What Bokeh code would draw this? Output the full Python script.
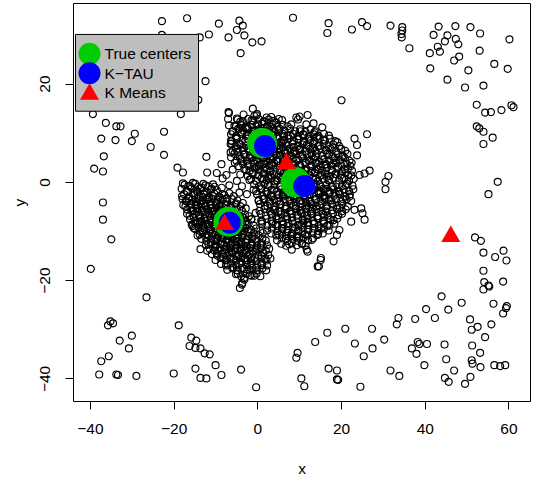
from bokeh.plotting import figure
from bokeh.models import Range1d, FixedTicker, Title
from bokeh.core.properties import value
from bokeh.embed import file_html
from bokeh.resources import INLINE

# ---------------- data ----------------
x_ticks = [-40, -20, 0, 20, 40, 60]
y_ticks = [-40, -20, 0, 20]

outliers = [
    (-22.9, 32.8), (-16.9, 33.4), (-9.3, 32.3), (-11.7, 30.1), (-13.9, 29.5), (-7.0, 29.5), (-22.9, 30.0),
    (-12.5, 20.6), (-14.2, 16.8), (-39.4, 13.9), (-18.4, 13.9), (-7.0, 14.3), (-36.3, 12.1), (-33.8, 11.4),
    (-32.8, 11.4), (-29.4, 9.9), (-22.4, 10.3), (-37.4, 8.9), (-34.0, 8.6),
    (-4.4, 32.9), (-3.6, 31.9), (-5.0, 31.0), (-3.2, 29.9), (-1.3, 28.5), (0.9, 28.7), (-4.1, 26.3),
    (8.4, 33.5), (16.9, 32.4), (16.6, 30.4), (22.5, 31.1), (24.9, 32.6), (26.1, 31.8), (20.0, 16.7),
    (-1.2, 15.0), (-0.2, 13.9), (-0.3, 13.6), (3.2, 13.3), (9.2, 13.2), (9.6, 12.8), (10.0, 13.4),
    (11.9, 13.7), (13.3, 12.0), (11.6, 11.8), (15.4, 11.2), (-3.9, 11.6), (-4.4, 10.9), (23.1, 8.9), (26.1, 9.8),
    (31.7, 31.9), (34.5, 31.6), (34.5, 30.9), (34.3, 30.2), (34.4, 29.5), (36.2, 27.3), (43.2, 31.7),
    (47.2, 31.8), (50.8, 31.6), (53.1, 30.3), (42.0, 30.0), (45.3, 29.9), (47.3, 29.2), (44.7, 28.7),
    (47.9, 28.1), (43.0, 27.6), (43.5, 26.6), (41.1, 26.3), (53.0, 26.8), (60.1, 29.1), (48.1, 25.6),
    (46.9, 24.8), (56.5, 24.1), (59.7, 23.1), (41.2, 23.2), (50.3, 22.8), (45.3, 20.9), (49.5, 19.3),
    (53.9, 19.7), (52.3, 15.8), (54.3, 14.2), (55.7, 14.3), (58.2, 14.7), (60.6, 15.7), (61.1, 15.3),
    (52.3, 11.4), (52.9, 11.0), (53.9, 10.3), (56.1, 9.1),
    (53.9, 7.8), (31.2, 1.3), (30.5, 0.1), (30.5, -1.4), (57.3, 0.1), (55.1, -2.4), (51.9, -11.2),
    (53.3, -11.9), (53.9, -14.3), (58.7, -13.9), (56.7, -15.2), (59.4, -15.9), (53.9, -18.0),
    (54.1, -20.3), (55.1, -21.0), (53.9, -21.8), (55.3, -21.2), (58.6, -20.2), (43.9, -23.2), (48.7, -24.5),
    (56.3, -24.7), (59.5, -25.2), (59.3, -25.6), (58.6, -26.7), (40.2, -25.8), (45.5, -25.9), (33.6, -27.6),
    (33.2, -28.9), (37.6, -27.8), (42.3, -27.6), (50.7, -27.9), (52.5, -29.4), (51.1, -30.0), (55.8, -28.9),
    (54.3, -31.5), (30.2, -32.0), (38.2, -32.5), (38.6, -32.9), (40.4, -32.9), (36.8, -33.8), (37.9, -34.9),
    (44.6, -33.0), (51.2, -33.2), (53.1, -34.7), (45.0, -36.0), (51.1, -36.2), (51.3, -36.9), (53.2, -37.6),
    (56.5, -37.2), (57.9, -37.4), (59.1, -37.2), (39.8, -37.2), (31.7, -38.3), (33.8, -39.4), (46.9, -38.3),
    (44.7, -39.8), (45.6, -40.6), (50.8, -39.6), (49.5, -41.0),
    (-4.0, -38.1), (-0.4, -41.7), (9.5, -34.7), (9.2, -35.7), (10.4, -39.9), (11.1, -41.5), (13.7, -32.5),
    (16.6, -30.6), (20.9, -29.8), (27.3, -29.8), (23.2, -32.8), (27.4, -33.8), (25.3, -35.4), (16.9, -37.9),
    (18.9, -38.3), (18.9, -40.1), (19.2, -40.2), (24.5, -41.6),
    (-26.6, -23.4), (-35.2, -28.3), (-35.8, -29.1), (-34.6, -28.7), (-18.9, -29.1), (-30.1, -31.2),
    (-33.0, -32.2), (-30.8, -33.8), (-35.6, -35.4), (-37.4, -36.4), (-37.9, -39.1), (-33.8, -39.1),
    (-33.4, -39.2), (-29.0, -39.4), (-15.9, -31.6), (-14.7, -32.2), (-16.3, -33.3), (-14.9, -33.7),
    (-13.7, -33.8), (-12.7, -34.8), (-11.5, -35.0), (-20.1, -38.9), (-14.9, -37.9), (-13.7, -39.8),
    (-12.3, -39.9), (-10.1, -37.2), (-8.7, -39.2),
    (-30.1, 8.4), (-25.6, 7.2), (-22.4, 5.6), (-36.8, 5.3), (-39.1, 2.8), (-37.0, 2.2), (-19.2, 3.0),
    (-17.9, 2.0), (-12.3, 5.2), (-8.7, 3.7), (-12.1, 2.0), (-37.0, -4.1), (-37.0, -7.6), (-35.0, -11.6),
    (-39.9, -17.6), (-15.3, -9.3), (-13.7, -13.6), (-6.9, 14.1), (-6.3, 7.9), (-6.4, 5.1),
    (14.6, -17.1), (15.0, -15.8), (11.9, -14.1), (-3.7, -20.5),
]

cluster_a = [
    (-17.5, -0.5), (-16.2, -0.8), (-15.0, -0.3), (-13.8, -1.2), (-12.5, -0.6), (-11.2, -1.5), (-16.8, -1.9),
    (-14.4, -2.0), (-10.3, -0.9), (-12.9, -2.3),
    (-18.1, -2.8), (-16.5, -3.3), (-15.2, -2.6), (-13.9, -3.7), (-12.1, -3.1), (-10.8, -2.7), (-9.6, -3.5),
    (-8.5, -2.4), (-11.5, -3.9), (-14.8, -3.9), (-17.2, -3.8), (-7.4, -3.2),
    (-17.8, -4.6), (-16.1, -5.2), (-14.7, -4.4), (-13.3, -5.6), (-12.4, -4.8), (-11.0, -5.3), (-9.9, -4.5),
    (-8.7, -5.5), (-7.6, -4.7), (-6.4, -5.2), (-15.5, -5.8), (-10.4, -5.9), (-5.2, -4.3), (-12.9, -4.2), (-9.2, -4.9),
    (-16.9, -6.4), (-15.3, -7.1), (-14.1, -6.6), (-12.8, -7.4), (-11.6, -6.3), (-10.3, -7.0), (-9.4, -6.5),
    (-8.1, -7.3), (-7.0, -6.2), (-5.9, -7.5), (-4.6, -6.8), (-13.5, -7.9), (-11.1, -7.8), (-8.8, -7.9),
    (-6.5, -7.8), (-3.5, -7.2), (-14.6, -6.0),
    (-15.8, -8.6), (-14.2, -9.1), (-12.6, -8.4), (-11.4, -9.5), (-10.1, -8.7), (-9.0, -9.3), (-7.8, -8.5),
    (-6.7, -9.6), (-5.4, -8.8), (-4.1, -9.4), (-2.9, -8.6), (-13.2, -9.8), (-8.3, -9.9), (-6.1, -8.2),
    (-3.3, -9.9), (-10.8, -8.1),
    (-13.9, -10.6), (-12.3, -11.2), (-11.0, -10.4), (-9.7, -11.5), (-8.6, -10.8), (-7.3, -11.7), (-6.2, -10.5),
    (-5.0, -11.3), (-3.8, -10.7), (-2.5, -11.6), (-1.4, -10.9), (-10.4, -11.9), (-7.9, -10.2), (-4.4, -11.9), (-0.6, -11.5),
    (-11.8, -12.6), (-10.2, -13.3), (-8.9, -12.4), (-7.6, -13.6), (-6.5, -12.8), (-5.3, -13.4), (-4.0, -12.5),
    (-2.8, -13.8), (-1.6, -12.9), (-0.3, -13.5), (-9.5, -13.9), (-6.9, -12.1), (-3.4, -13.1), (0.8, -12.7),
    (-9.8, -14.5), (-8.3, -15.2), (-6.9, -14.3), (-5.7, -15.6), (-4.5, -14.8), (-3.1, -15.4), (-1.9, -14.6),
    (-0.7, -15.3), (0.9, -14.9), (-7.5, -15.8), (-2.4, -15.9), (1.8, -15.6),
    (-7.2, -16.7), (-5.9, -17.3), (-4.4, -16.5), (-3.2, -17.6), (-1.8, -16.9), (-0.4, -17.4), (0.9, -16.8), (-5.0, -17.9),
    (-4.8, -18.6), (-3.3, -19.5), (-1.9, -18.9), (-0.8, -19.0), (-3.8, -20.8), (-3.2, -19.8), (-4.3, -21.5),
    (-11.3, -4.4), (-10.6, -6.6), (-9.1, -5.8), (-8.2, -6.4), (-7.1, -8.9), (-6.0, -9.9), (-9.9, -9.9),
    (-8.4, -11.4), (-6.8, -10.9), (-5.6, -12.2), (-4.7, -10.1), (-11.9, -8.9), (-12.6, -5.9), (-10.0, -12.6),
    (-4.9, -7.4), (-3.7, -8.3), (-2.2, -10.1), (-7.9, -14.4), (-6.3, -13.9), (-4.1, -13.9), (-13.8, -8.1),
    (-9.5, -7.9), (-7.4, -5.9), (-5.8, -6.1), (-11.7, -10.9), (-8.0, -12.7), (-3.0, -12.2), (-1.2, -13.9),
    (-5.2, -15.0), (-9.0, -3.2), (-13.1, -3.0), (-15.9, -4.3), (-14.9, -8.2), (-12.1, -13.9), (-2.0, -17.8),
    (-7.5, 1.5), (-6.0, 2.6), (-5.0, 0.3), (-3.8, -0.8), (-2.6, -2.4), (-6.8, -0.6), (-4.4, -2.1),
    (-8.4, 0.8), (-9.8, 1.9), (-2.0, 0.5), (-1.0, -1.5), (0.2, -3.6), (-0.5, -6.2), (1.0, -8.0), (-1.5, -7.5),
]

cluster_a_core = [
    (-17.9, -0.2), (-16.6, -0.7), (-15.5, -0.1), (-14.3, -0.9), (-13.0, -0.3), (-11.8, -0.8), (-10.7, -0.4),
    (-18.2, -1.3), (-17.0, -1.8), (-15.8, -1.2), (-14.6, -1.7), (-13.4, -1.1), (-12.2, -1.9), (-11.0, -1.3),
    (-9.8, -1.6), (-8.6, -1.1),
    (-17.6, -2.4), (-16.4, -2.9), (-15.3, -2.2), (-14.0, -2.8), (-12.8, -2.5), (-11.7, -3.0), (-10.4, -2.3),
    (-9.2, -2.9), (-8.0, -2.6), (-6.8, -2.2), (-5.7, -2.8),
    (-18.0, -3.4), (-16.9, -3.9), (-15.7, -3.5), (-14.4, -3.2), (-13.3, -3.8), (-12.0, -3.5), (-10.9, -3.3),
    (-9.7, -3.9), (-8.4, -3.5), (-7.3, -3.9), (-6.1, -3.4), (-4.9, -3.7),
    (-17.3, -4.9), (-16.0, -4.4), (-14.9, -4.8), (-13.6, -4.5), (-12.5, -4.9), (-11.3, -4.7), (-10.0, -4.3),
    (-8.9, -4.8), (-7.7, -4.4), (-6.5, -4.8), (-5.4, -4.5), (-4.1, -4.9), (-3.6, -4.2),
    (-16.9, -5.5), (-15.8, -5.9), (-14.5, -5.4), (-13.4, -5.8), (-12.1, -5.5), (-10.9, -5.9), (-9.8, -5.3),
    (-8.5, -5.7), (-7.3, -5.4), (-6.2, -5.9), (-5.0, -5.5), (-3.8, -5.8), (-2.9, -5.3),
    (-16.3, -6.8), (-15.1, -6.4), (-13.9, -6.9), (-12.6, -6.5), (-11.5, -6.8), (-10.2, -6.4), (-9.0, -6.9),
    (-7.9, -6.5), (-6.7, -6.9), (-5.5, -6.4), (-4.3, -6.8), (-3.1, -6.5), (-2.1, -6.9),
    (-16.2, -7.5), (-15.0, -7.9), (-13.7, -7.4), (-12.5, -7.8), (-11.3, -7.3), (-10.0, -7.7), (-8.9, -7.4),
    (-7.6, -7.9), (-6.4, -7.3), (-5.2, -7.8), (-4.0, -7.4), (-2.8, -7.9), (-1.6, -7.5),
    (-15.6, -8.9), (-14.4, -8.4), (-13.1, -8.8), (-11.9, -8.5), (-10.7, -8.9), (-9.5, -8.4), (-8.2, -8.8),
    (-7.0, -8.4), (-5.9, -8.9), (-4.6, -8.5), (-3.5, -8.9), (-2.2, -8.4), (-1.0, -8.8),
    (-15.0, -9.5), (-13.8, -9.9), (-12.7, -9.4), (-11.4, -9.8), (-10.2, -9.3), (-9.0, -9.8), (-7.7, -9.4),
    (-6.5, -9.9), (-5.3, -9.4), (-4.0, -9.8), (-2.9, -9.3), (-1.6, -9.7), (-0.4, -9.4), (0.6, -9.9),
    (-14.4, -10.8), (-13.2, -10.3), (-12.0, -10.7), (-10.8, -10.4), (-9.5, -10.9), (-8.3, -10.4), (-7.1, -10.8),
    (-5.9, -10.3), (-4.7, -10.8), (-3.4, -10.4), (-2.2, -10.9), (-1.0, -10.4), (0.2, -10.8), (1.2, -10.3),
    (-13.5, -11.5), (-12.3, -11.9), (-11.1, -11.4), (-9.9, -11.8), (-8.7, -11.3), (-7.5, -11.8), (-6.2, -11.4),
    (-5.0, -11.9), (-3.8, -11.3), (-2.6, -11.8), (-1.3, -11.4), (-0.1, -11.9), (1.1, -11.4), (1.9, -11.8),
    (-12.4, -12.8), (-11.2, -12.4), (-10.0, -12.9), (-8.7, -12.5), (-7.5, -12.9), (-6.3, -12.4), (-5.1, -12.8),
    (-3.9, -12.4), (-2.6, -12.9), (-1.4, -12.5), (-0.2, -12.9), (1.0, -12.4), (2.2, -12.8),
    (-11.5, -13.5), (-10.3, -13.9), (-9.1, -13.4), (-7.9, -13.8), (-6.6, -13.4), (-5.4, -13.9), (-4.2, -13.5),
    (-3.0, -13.9), (-1.8, -13.4), (-0.6, -13.8), (0.7, -13.4), (1.9, -13.9), (2.7, -13.5),
    (-11.0, -14.6), (-9.7, -14.9), (-8.5, -14.5), (-7.3, -14.9), (-6.1, -14.4), (-4.9, -14.8), (-3.6, -14.4),
    (-2.4, -14.9), (-1.2, -14.5), (0.1, -14.9), (1.3, -14.4), (2.5, -14.8),
    (-10.1, -15.8), (-8.9, -15.4), (-7.7, -15.9), (-6.5, -15.5), (-5.2, -15.9), (-4.0, -15.4), (-2.8, -15.8),
    (-1.6, -15.4), (-0.3, -15.9), (0.9, -15.5), (2.1, -15.9), (3.0, -15.5),
    (-8.8, -16.6), (-7.6, -16.9), (-6.4, -16.5), (-5.1, -16.9), (-3.9, -16.4), (-2.7, -16.8), (-1.5, -16.5),
    (-0.2, -16.9), (1.0, -16.5), (2.2, -16.9),
    (-7.3, -17.8), (-6.1, -17.5), (-4.9, -17.9), (-3.7, -17.4), (-2.5, -17.8), (-1.3, -17.4), (-0.1, -17.9),
    (1.1, -17.5), (2.0, -17.9),
    (-5.2, -18.7), (-4.0, -19.1), (-2.7, -18.6), (-1.5, -19.0), (-0.3, -18.6), (0.6, -19.1),
]

cluster_b = [
    (-5.6, 11.5), (-4.2, 12.3), (-2.9, 11.1), (-1.5, 12.6), (0.1, 11.8), (1.6, 12.4), (3.0, 11.3), (4.4, 12.1),
    (-3.8, 10.2), (-2.2, 9.7), (-0.7, 10.5), (0.8, 9.6), (2.3, 10.4), (3.7, 9.5), (5.1, 10.6), (-5.1, 9.1),
    (-4.4, 7.8), (-3.0, 8.4), (-1.7, 7.5), (-0.2, 8.2), (1.3, 7.3), (2.7, 8.6), (4.1, 7.6), (5.5, 8.3),
    (-4.8, 6.2), (-3.3, 5.7), (-1.9, 6.4), (-0.5, 5.5), (1.0, 6.2), (2.4, 5.4), (3.8, 6.3), (5.2, 5.6),
    (-3.9, 4.3), (-2.4, 3.8), (-1.0, 4.5), (0.5, 3.6), (1.9, 4.2), (3.3, 3.5), (-2.8, 2.5), (-1.3, 1.9),
    (0.2, 2.7), (1.6, 1.8), (-6.4, 8.5), (-6.1, 10.3), (6.3, 9.4), (-0.8, 13.5), (2.1, 13.2), (-3.4, 13.8),
    (-6.5, 6.1), (-5.5, 4.0), (4.6, 4.3), (-4.2, 1.6), (0.9, 11.0), (-2.5, 10.8), (3.4, 10.9), (-1.2, 9.1),
    (1.9, 8.9), (-3.6, 7.0), (0.4, 7.0), (3.1, 7.1), (-2.0, 5.0), (1.5, 5.0), (-0.3, 3.1), (-5.0, 13.0),
    (-7.1, 12.9), (-6.9, 11.6), (5.8, 12.7), (6.0, 7.1),
]

cluster_c = [
    (4.5, 9.2), (6.2, 8.6), (7.8, 9.5), (9.4, 8.8), (11.0, 9.7), (12.6, 8.5), (14.1, 9.3), (15.7, 8.7),
    (10.2, 10.4), (13.5, 10.2),
    (3.8, 6.8), (5.4, 7.5), (7.1, 6.4), (8.6, 7.2), (10.1, 6.6), (11.7, 7.6), (13.2, 6.9), (14.8, 7.4),
    (16.3, 6.5), (17.9, 7.1), (19.0, 8.2),
    (2.9, 4.8), (4.5, 5.5), (6.0, 4.3), (7.6, 5.2), (9.2, 4.6), (10.7, 5.7), (12.3, 4.4), (13.8, 5.3),
    (15.4, 4.7), (17.0, 5.6), (18.6, 4.5), (20.1, 5.2), (8.4, 5.9), (11.5, 4.1),
    (2.1, 2.6), (3.7, 3.4), (5.3, 2.3), (6.8, 3.7), (8.3, 2.8), (9.9, 3.5), (11.4, 2.4), (12.9, 3.3),
    (14.5, 2.6), (16.1, 3.6), (17.6, 2.5), (19.2, 3.2), (20.8, 2.7), (7.6, 2.1), (13.6, 2.0),
    (1.4, 0.7), (3.0, 1.5), (4.6, 0.4), (6.1, 1.7), (7.7, 0.6), (9.2, 1.4), (10.8, 0.3), (12.3, 1.6),
    (13.9, 0.8), (15.4, 1.5), (17.0, 0.5), (18.5, 1.7), (20.1, 0.9), (21.6, 1.4), (5.4, 1.1), (11.6, 0.9),
    (0.8, -1.2), (2.4, -0.5), (3.9, -1.6), (5.5, -0.7), (7.0, -1.4), (8.6, -0.3), (10.1, -1.7), (11.7, -0.6),
    (13.2, -1.5), (14.8, -0.4), (16.3, -1.3), (17.9, -0.8), (19.4, -1.8), (21.0, -0.6), (6.3, -1.9), (12.4, -1.1),
    (1.5, -3.3), (3.1, -2.6), (4.6, -3.8), (6.2, -2.4), (7.7, -3.5), (9.3, -2.7), (10.8, -3.9), (12.4, -2.5),
    (13.9, -3.6), (15.5, -2.8), (17.0, -3.7), (18.6, -2.3), (20.3, -3.4), (8.5, -3.1), (14.6, -2.1),
    (2.3, -4.8), (3.8, -5.6), (5.4, -4.4), (6.9, -5.3), (8.5, -4.6), (10.0, -5.8), (11.6, -4.3), (13.1, -5.4),
    (14.7, -4.7), (16.2, -5.9), (17.8, -4.5), (19.6, -5.2), (7.6, -5.9), (12.2, -5.0),
    (3.4, -6.5), (5.0, -7.4), (6.5, -6.3), (8.1, -7.2), (9.6, -6.6), (11.2, -7.7), (12.7, -6.4), (14.3, -7.3),
    (15.8, -6.7), (17.4, -7.6), (10.3, -6.2),
    (4.2, -8.6), (5.8, -9.4), (7.3, -8.3), (8.9, -9.2), (10.4, -8.7), (12.0, -9.6), (13.5, -8.4), (15.1, -9.3),
    (16.6, -8.8), (9.7, -9.9),
    (5.1, -10.7), (6.7, -11.5), (8.2, -10.4), (9.8, -11.2), (11.3, -10.6), (12.9, -11.7), (14.4, -10.5),
    (7.5, -12.6), (10.6, -12.4),
    (8.1, -13.7), (11.7, -13.7), (15.1, -15.4), (14.3, -17.1), (19.5, -9.7), (18.9, -10.7), (18.1, -12.0),
    (22.3, -8.0), (23.1, -5.6), (24.7, -5.3), (25.5, -7.6), (25.0, -6.3), (26.7, 2.4), (25.5, 1.8), (24.3, 1.5),
    (23.7, 7.6), (23.7, 5.5), (22.4, 4.0), (21.9, -2.9),
    (4.1, 0.2), (5.9, -2.6), (7.3, 4.4), (8.9, 6.3), (9.7, -0.9), (10.5, 2.0), (11.1, -2.8), (12.8, 5.9),
    (13.4, -0.2), (14.1, 3.9), (15.0, -1.9), (16.5, 1.1), (6.7, 7.9), (9.0, -5.4), (11.9, -8.2), (13.3, -4.6),
    (15.9, -3.2), (4.9, -5.9), (3.3, -2.9), (2.6, 0.9), (6.4, 5.9), (17.2, -2.0), (18.1, 3.9), (11.0, 8.1),
    (8.0, -10.9), (6.1, -8.6),
]

cluster_bc_core = [
    (-4.8, 12.8), (-3.6, 12.4), (-2.3, 12.9), (-1.1, 12.5), (0.2, 12.9), (1.4, 12.4), (2.6, 12.8), (3.9, 12.5), (5.0, 12.9),
    (-5.2, 11.4), (-4.0, 11.8), (-2.7, 11.3), (-1.5, 11.7), (-0.3, 11.4), (1.0, 11.9), (2.2, 11.4), (3.4, 11.8),
    (4.7, 11.3), (5.9, 11.7), (7.1, 11.4), (8.0, 11.8),
    (-5.9, 10.4), (-4.7, 10.9), (-3.4, 10.5), (-2.2, 10.9), (-1.0, 10.4), (0.3, 10.8), (1.5, 10.3), (2.7, 10.8),
    (4.0, 10.4), (5.2, 10.9), (6.4, 10.5), (7.7, 10.9), (8.9, 10.4), (10.1, 10.8), (11.4, 10.3), (12.6, 10.8), (13.8, 10.4),
    (-6.4, 9.8), (-5.2, 9.4), (-4.0, 9.9), (-2.7, 9.5), (-1.5, 9.9), (-0.3, 9.4), (1.0, 9.8), (2.2, 9.3), (3.4, 9.8),
    (4.7, 9.4), (5.9, 9.9), (7.1, 9.5), (8.4, 9.9), (9.6, 9.4), (10.8, 9.8), (12.1, 9.3), (13.3, 9.8), (14.5, 9.4),
    (15.8, 9.9), (17.0, 9.5),
    (-6.2, 8.4), (-5.0, 8.9), (-3.7, 8.5), (-2.5, 8.9), (-1.3, 8.4), (0.0, 8.8), (1.2, 8.3), (2.4, 8.8), (3.7, 8.4),
    (4.9, 8.9), (6.1, 8.5), (7.4, 8.9), (8.6, 8.4), (9.8, 8.8), (11.1, 8.3), (12.3, 8.8), (13.5, 8.4), (14.8, 8.9),
    (16.0, 8.5), (17.2, 8.9), (18.5, 8.4),
    (-6.5, 7.8), (-5.3, 7.3), (-4.1, 7.7), (-2.8, 7.4), (-1.6, 7.9), (-0.4, 7.4), (0.9, 7.8), (2.1, 7.3), (3.3, 7.7),
    (4.6, 7.4), (5.8, 7.9), (7.0, 7.4), (8.3, 7.8), (9.5, 7.3), (10.7, 7.7), (12.0, 7.4), (13.2, 7.9), (14.4, 7.4),
    (15.7, 7.8), (16.9, 7.3), (18.1, 7.7), (19.4, 7.4),
    (-6.0, 6.4), (-4.8, 6.9), (-3.5, 6.5), (-2.3, 6.9), (-1.1, 6.4), (0.2, 6.8), (1.4, 6.3), (2.6, 6.8), (3.9, 6.4),
    (5.1, 6.9), (6.3, 6.5), (7.6, 6.9), (8.8, 6.4), (10.0, 6.8), (11.3, 6.3), (12.5, 6.8), (13.7, 6.4), (15.0, 6.9),
    (16.2, 6.5), (17.4, 6.9), (18.7, 6.4), (19.9, 6.8), (20.9, 6.4),
    (-5.6, 5.8), (-4.4, 5.3), (-3.1, 5.7), (-1.9, 5.4), (-0.7, 5.9), (0.6, 5.4), (1.8, 5.8), (3.0, 5.3), (4.3, 5.7),
    (5.5, 5.4), (6.7, 5.9), (8.0, 5.4), (9.2, 5.8), (10.4, 5.3), (11.7, 5.7), (12.9, 5.4), (14.1, 5.9), (15.4, 5.4),
    (16.6, 5.8), (17.8, 5.3), (19.1, 5.7), (20.3, 5.4), (21.4, 5.8),
    (-5.1, 4.4), (-3.9, 4.8), (-2.6, 4.4), (-1.4, 4.9), (-0.2, 4.5), (1.1, 4.9), (2.3, 4.4), (3.5, 4.8), (4.8, 4.3),
    (6.0, 4.7), (7.2, 4.4), (8.5, 4.9), (9.7, 4.5), (10.9, 4.9), (12.2, 4.4), (13.4, 4.8), (14.6, 4.3), (15.9, 4.7),
    (17.1, 4.4), (18.3, 4.9), (19.6, 4.5), (20.8, 4.9), (21.9, 4.4),
    (-4.7, 3.3), (-3.5, 3.7), (-2.2, 3.4), (-1.0, 3.8), (0.2, 3.3), (1.5, 3.7), (2.7, 3.4), (3.9, 3.9), (5.2, 3.4),
    (6.4, 3.8), (7.6, 3.3), (8.9, 3.7), (10.1, 3.4), (11.3, 3.9), (12.6, 3.4), (13.8, 3.8), (15.0, 3.3), (16.3, 3.7),
    (17.5, 3.4), (18.7, 3.9), (20.0, 3.4), (21.2, 3.8), (22.1, 3.3),
    (-3.2, 2.7), (-2.0, 2.3), (-0.7, 2.8), (0.5, 2.4), (1.7, 2.9), (3.0, 2.4), (4.2, 2.8), (5.4, 2.3), (6.7, 2.7),
    (7.9, 2.4), (9.1, 2.9), (10.4, 2.4), (11.6, 2.8), (12.8, 2.3), (14.1, 2.7), (15.3, 2.4), (16.5, 2.9), (17.8, 2.4),
    (19.0, 2.8), (20.2, 2.3), (21.5, 2.7), (22.5, 2.4),
    (-2.4, 1.3), (-1.2, 1.7), (0.1, 1.4), (1.3, 1.8), (2.5, 1.3), (3.8, 1.7), (5.0, 1.4), (6.2, 1.9), (7.5, 1.4),
    (8.7, 1.8), (9.9, 1.3), (11.2, 1.7), (12.4, 1.4), (13.6, 1.9), (14.9, 1.4), (16.1, 1.8), (17.3, 1.3), (18.6, 1.7),
    (19.8, 1.4), (21.0, 1.9), (22.3, 1.4),
    (-1.6, 0.7), (-0.4, 0.3), (0.9, 0.8), (2.1, 0.4), (3.3, 0.9), (4.6, 0.4), (5.8, 0.8), (7.0, 0.3), (8.3, 0.7),
    (9.5, 0.4), (10.7, 0.9), (12.0, 0.4), (13.2, 0.8), (14.4, 0.3), (15.7, 0.7), (16.9, 0.4), (18.1, 0.9), (19.4, 0.4),
    (20.6, 0.8), (21.8, 0.3), (22.9, 0.7),
    (-0.9, -0.4), (0.3, -0.8), (1.6, -0.3), (2.8, -0.7), (4.0, -0.4), (5.3, -0.9), (6.5, -0.5), (7.7, -0.9), (9.0, -0.4),
    (10.2, -0.8), (11.4, -0.3), (12.7, -0.7), (13.9, -0.4), (15.1, -0.9), (16.4, -0.5), (17.6, -0.9), (18.8, -0.4),
    (20.1, -0.8), (21.3, -0.3), (22.6, -0.7),
    (-0.4, -1.8), (0.8, -1.4), (2.0, -1.9), (3.3, -1.5), (4.5, -1.9), (5.7, -1.4), (7.0, -1.8), (8.2, -1.3), (9.4, -1.7),
    (10.7, -1.4), (11.9, -1.9), (13.1, -1.4), (14.4, -1.8), (15.6, -1.3), (16.8, -1.7), (18.1, -1.4), (19.3, -1.9),
    (20.5, -1.4), (21.8, -1.8), (22.8, -1.4),
    (-0.2, -2.4), (1.1, -2.8), (2.3, -2.4), (3.5, -2.9), (4.8, -2.5), (6.0, -2.9), (7.2, -2.4), (8.5, -2.8), (9.7, -2.3),
    (10.9, -2.7), (12.2, -2.4), (13.4, -2.9), (14.6, -2.4), (15.9, -2.8), (17.1, -2.3), (18.3, -2.7), (19.6, -2.4),
    (20.8, -2.9), (22.0, -2.4),
    (0.2, -3.8), (1.4, -3.4), (2.7, -3.9), (3.9, -3.5), (5.1, -3.9), (6.4, -3.4), (7.6, -3.8), (8.8, -3.3), (10.1, -3.7),
    (11.3, -3.4), (12.5, -3.9), (13.8, -3.4), (15.0, -3.8), (16.2, -3.3), (17.5, -3.7), (18.7, -3.4), (19.9, -3.9),
    (21.2, -3.4), (22.3, -3.8),
    (0.5, -4.4), (1.7, -4.8), (3.0, -4.4), (4.2, -4.9), (5.4, -4.5), (6.7, -4.9), (7.9, -4.4), (9.1, -4.8), (10.4, -4.3),
    (11.6, -4.7), (12.8, -4.4), (14.1, -4.9), (15.3, -4.4), (16.5, -4.8), (17.8, -4.3), (19.0, -4.7), (20.2, -4.4), (21.5, -4.9),
    (0.4, -5.8), (1.6, -5.4), (2.9, -5.9), (4.1, -5.5), (5.3, -5.9), (6.6, -5.4), (7.8, -5.8), (9.0, -5.3), (10.3, -5.7),
    (11.5, -5.4), (12.7, -5.9), (14.0, -5.4), (15.2, -5.8), (16.4, -5.3), (17.7, -5.7), (18.9, -5.4), (20.1, -5.9), (21.0, -5.5),
    (0.7, -6.4), (1.9, -6.8), (3.2, -6.4), (4.4, -6.9), (5.6, -6.5), (6.9, -6.9), (8.1, -6.4), (9.3, -6.8), (10.6, -6.3),
    (11.8, -6.7), (13.0, -6.4), (14.3, -6.9), (15.5, -6.4), (16.7, -6.8), (18.0, -6.3), (19.2, -6.7), (20.1, -6.4),
    (0.8, -7.8), (2.1, -7.4), (3.3, -7.9), (4.5, -7.5), (5.8, -7.9), (7.0, -7.4), (8.2, -7.8), (9.5, -7.3), (10.7, -7.7),
    (11.9, -7.4), (13.2, -7.9), (14.4, -7.4), (15.6, -7.8), (16.9, -7.3), (18.1, -7.7), (19.0, -7.4),
    (1.0, -8.4), (2.3, -8.8), (3.5, -8.4), (4.7, -8.9), (6.0, -8.5), (7.2, -8.9), (8.4, -8.4), (9.7, -8.8), (10.9, -8.3),
    (12.1, -8.7), (13.4, -8.4), (14.6, -8.9), (15.8, -8.4), (17.1, -8.8), (18.3, -8.4),
    (2.2, -9.8), (3.4, -9.4), (4.7, -9.9), (5.9, -9.5), (7.1, -9.9), (8.4, -9.4), (9.6, -9.8), (10.8, -9.3), (12.1, -9.7),
    (13.3, -9.4), (14.5, -9.9), (15.8, -9.4), (16.9, -9.8),
    (3.2, -10.4), (4.4, -10.8), (5.7, -10.4), (6.9, -10.9), (8.1, -10.5), (9.4, -10.9), (10.6, -10.4), (11.8, -10.8),
    (13.1, -10.3), (14.3, -10.7), (15.5, -10.4),
    (4.6, -11.8), (5.8, -11.4), (7.1, -11.9), (8.3, -11.5), (9.5, -11.9), (10.8, -11.4), (12.0, -11.8), (13.2, -11.4),
    (5.6, -12.5), (6.8, -12.9), (8.1, -12.4), (9.3, -12.8), (10.5, -12.5), (11.4, -12.9),
]

true_x = [1.0, 9.0, -7.0]
true_y = [8.0, 0.0, -8.0]
ktau_x = [1.7, 11.1, -6.7]
ktau_y = [7.4, -0.75, -8.2]
kmeans_x = [6.85, -7.95, 46.1]
kmeans_y = [3.8, -8.6, -11.0]

legend_labels = ["True centers", "K\u2212TAU", "K Means"]

# ---------------- layout ----------------
W, H = 533, 479
FL, FR, FT, FB = 73, 530, 3, 402
X0, X1 = -44.04, 65.14
Y0, Y1 = -44.6, 36.4
FONT = "Liberation Sans"
FS = "15.5px"


def px2x(px):
    return X0 + (px - FL) / (FR - FL) * (X1 - X0)


def py2y(py):
    return Y1 - (py - FT) / (FB - FT) * (Y1 - Y0)


p = figure(width=W, height=H, x_range=Range1d(X0, X1), y_range=Range1d(Y0, Y1),
           output_backend="svg", toolbar_location=None,
           min_border_left=FL, min_border_right=W - FR, min_border_top=FT, min_border_bottom=H - FB)
p.xgrid.visible = False
p.ygrid.visible = False
p.outline_line_color = "black"
p.outline_line_alpha = 1.0
p.outline_line_width = 1
p.background_fill_color = "white"
p.border_fill_color = "white"

for ax, ticks in ((p.xaxis, x_ticks), (p.yaxis, y_ticks)):
    ax.ticker = FixedTicker(ticks=ticks)
    ax.major_label_overrides = {t: (str(t).replace("-", "\u2212")) for t in ticks}
    ax.axis_line_color = None
    ax.major_tick_out = 8
    ax.major_tick_in = 0
    ax.major_tick_line_color = "black"
    ax.minor_tick_line_color = None
    ax.major_label_text_font = FONT
    ax.major_label_text_font_size = FS
    ax.major_label_text_color = "black"
    ax.axis_label_text_font = FONT
    ax.axis_label_text_font_size = FS
    ax.axis_label_text_font_style = "normal"
    ax.axis_label_text_color = "black"

p.xaxis.axis_label = "x"
p.xaxis.major_label_standoff = 14
p.xaxis.axis_label_standoff = 23
p.yaxis.major_label_orientation = "vertical"
p.yaxis.major_label_standoff = 15

# y axis title in the left margin, outside the y axis
p.add_layout(Title(text="y", align="center", vertical_align="top", text_font=FONT, text_font_size=FS,
                   text_font_style="normal", text_color="black", standoff=15), "left")

pts = outliers + cluster_a + cluster_a_core + cluster_b + cluster_c + cluster_bc_core
p.scatter([q[0] for q in pts], [q[1] for q in pts], marker="circle", size=7,
          fill_color=None, line_color="black", line_width=1.15)

p.scatter(true_x, true_y, marker="circle", size=30, fill_color="#00CD00", line_color=None)
p.scatter(ktau_x, ktau_y, marker="circle", size=22, fill_color="#0000FF", line_color=None)
p.scatter(kmeans_x, kmeans_y, marker="triangle", size=19, fill_color="#FF0000", line_color=None)

# legend (drawn manually, like R's legend box)
p.quad(left=[px2x(75)], right=[px2x(198)], top=[py2y(34)], bottom=[py2y(111)],
       fill_color="#BEBEBE", line_color="black", line_width=1)
row_y = [53.5, 73.0, 92.0]
p.scatter([px2x(89)], [py2y(row_y[0])], marker="circle", size=22, fill_color="#00CD00", line_color=None)
p.scatter([px2x(89)], [py2y(row_y[1])], marker="circle", size=22, fill_color="#0000FF", line_color=None)
p.scatter([px2x(89)], [py2y(row_y[2] + 2)], marker="triangle", size=19, fill_color="#FF0000", line_color=None)
p.text(x=[px2x(104)] * 3, y=[py2y(v) for v in row_y], text=legend_labels,
       text_font=value(FONT), text_font_size=FS, text_color="black",
       text_align="left", text_baseline="middle")

open("out.html", "w").write(file_html(p, INLINE))
